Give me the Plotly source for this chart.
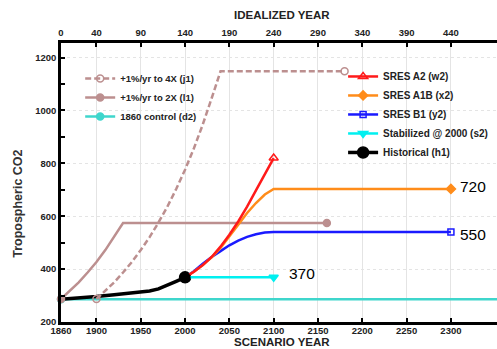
import plotly.graph_objects as go

# ---------------- data ----------------
scenario_ticks = [1860, 1900, 1950, 2000, 2050, 2100, 2150, 2200, 2250, 2300]
idealized_ticks = [0, 40, 90, 140, 190, 240, 290, 340, 390, 440]
y_ticks = [200, 400, 600, 800, 1000, 1200]

control_years = [1860, 2360]
control_co2 = [286, 286]

hist_years = [1860, 1880, 1900, 1920, 1940, 1950, 1960, 1970, 1980, 1990, 2000]
hist_co2 = [286, 290, 296, 303, 310, 312, 317, 325, 338, 354, 369]

two_x_years = [1860, 1870, 1880, 1890, 1900, 1910, 1920, 1930, 2160]
two_x_co2 = [287, 317, 350, 387, 427, 472, 521, 574, 574]

four_x_years = [1900, 1910, 1920, 1930, 1940, 1950, 1960, 1970, 1980, 1990,
                2000, 2010, 2020, 2030, 2040, 2180]
four_x_co2 = [287, 317, 350, 387, 427, 472, 521, 576, 636, 703,
              776, 857, 947, 1046, 1148, 1148]

sres_years = [2000, 2010, 2020, 2030, 2040, 2050, 2060, 2070, 2080, 2090, 2100]
a2_co2 = [369, 390, 415, 446, 485, 530, 580, 636, 698, 760, 820]
ext_years = sres_years + [2300]
a1b_co2 = [369, 390, 415, 444, 480, 522, 568, 612, 650, 682, 703, 703]
b1_co2 = [369, 392, 420, 446, 468, 490, 508, 522, 532, 538, 540, 540]
stab_years = [2000, 2100]
stab_co2 = [369, 369]

end_labels = ["720", "550", "370"]
end_label_x = [2308, 2308, 2115]
end_label_y = [711, 529, 385]

x_range = [1860, 2352]
y_range = [200, 1255]

BROWN = "#bc8f8f"
TURQ = "#3fd6cc"
CYAN = "#00f0f0"
RED = "#ff1a1a"
ORANGE = "#ff8c1a"
BLUE = "#1a1aff"
FONT = "Liberation Sans"

fig = go.Figure()


def series(xs, ys, color, width, dash, sym, msize, name, legend, start_marker=True):
    fig.add_trace(go.Scatter(x=xs, y=ys, mode="lines", line=dict(color=color, width=width, dash=dash),
                             showlegend=False, hoverinfo="skip"))
    mx = [xs[0], xs[-1]] if start_marker else [xs[-1]]
    my = [ys[0], ys[-1]] if start_marker else [ys[-1]]
    fig.add_trace(go.Scatter(x=mx, y=my, mode="markers",
                             marker=dict(symbol=sym, size=msize, color=color,
                                         line=dict(color=color, width=1.5)),
                             showlegend=False, hoverinfo="skip", cliponaxis=False))
    # legend entry
    fig.add_trace(go.Scatter(x=[None], y=[None], mode="lines+markers", name=name, legend=legend,
                             line=dict(color=color, width=width, dash=dash),
                             marker=dict(symbol=sym, size=msize, color=color,
                                         line=dict(color=color, width=1.5))))


series(control_years, control_co2, TURQ, 2.5, "solid", "circle", 7, "1860 control (d2)", "legend")
series(hist_years, hist_co2, "black", 3.5, "solid", "circle", 11, "Historical (h1)", "legend2", start_marker=False)
series(two_x_years, two_x_co2, BROWN, 2.5, "solid", "circle", 7, "+1%/yr to 2X (l1)", "legend")
series(four_x_years, four_x_co2, BROWN, 2.5, "6px,3px", "circle-open", 7, "+1%/yr to 4X (j1)", "legend")
series(stab_years, stab_co2, CYAN, 2.5, "solid", "triangle-down", 8, "Stabilized @ 2000 (s2)", "legend2", start_marker=False)
series(ext_years, b1_co2, BLUE, 2.5, "solid", "square-open", 6, "SRES B1 (y2)", "legend2", start_marker=False)
series(ext_years, a1b_co2, ORANGE, 2.5, "solid", "diamond", 7, "SRES A1B (x2)", "legend2", start_marker=False)
series(sres_years, a2_co2, RED, 2.5, "solid", "triangle-up-open", 8, "SRES A2 (w2)", "legend2", start_marker=False)

# historical end marker on top
fig.add_trace(go.Scatter(x=[hist_years[-1]], y=[hist_co2[-1]], mode="markers",
                         marker=dict(symbol="circle", size=11, color="black"),
                         showlegend=False, hoverinfo="skip"))

# idealized-year axis carrier (no visible mark)
fig.add_trace(go.Scatter(x=[idealized_ticks[0]], y=[None], xaxis="x2", yaxis="y",
                         showlegend=False, hoverinfo="skip"))

# legend order
order1 = ["+1%/yr to 4X (j1)", "+1%/yr to 2X (l1)", "1860 control (d2)"]
order2 = ["SRES A2 (w2)", "SRES A1B (x2)", "SRES B1 (y2)", "Stabilized @ 2000 (s2)", "Historical (h1)"]
for tr in fig.data:
    if tr.name in order1:
        tr.legendrank = order1.index(tr.name)
    elif tr.name in order2:
        tr.legendrank = order2.index(tr.name)

for t, xv, yv in zip(end_labels, end_label_x, end_label_y):
    fig.add_annotation(x=xv, y=yv, text=t, showarrow=False, xanchor="left", yanchor="middle",
                       font=dict(family=FONT, size=15.5, color="black"))

title_font = dict(family=FONT, size=11.5, color="#222222", weight="bold")
fig.add_annotation(x=-0.099, y=0.423, xref="paper", yref="paper", text="Tropospheric CO2",
                   textangle=-90, showarrow=False, xanchor="center", yanchor="middle",
                   font=dict(family=FONT, size=12.5, color="#333333", weight="bold"))
fig.add_annotation(x=0.507, y=-0.096, xref="paper", yref="paper", text="SCENARIO YEAR",
                   showarrow=False, xanchor="center", yanchor="bottom", font=title_font,
                   borderpad=0)
fig.add_annotation(x=0.507, y=1.100, xref="paper", yref="paper", text="IDEALIZED YEAR",
                   showarrow=False, xanchor="center", yanchor="middle", font=title_font)

tickfont = dict(family=FONT, size=9.5, color="#222222", weight="bold")
axis_common = dict(showline=True, linecolor="black", linewidth=2.5, ticks="inside", automargin=False,
                   tickcolor="black", tickwidth=1.5, ticklen=4, tickfont=tickfont, zeroline=False)

fig.update_layout(
    width=497, height=349,
    margin=dict(l=61, r=0, t=43, b=27, autoexpand=False),
    paper_bgcolor="white", plot_bgcolor="white",
    font=dict(family=FONT),
    xaxis=dict(range=x_range, tickvals=scenario_ticks, showgrid=True, gridcolor="#e4e4e4", gridwidth=1,
               ticklabelstandoff=-2, **axis_common),
    xaxis2=dict(range=[x_range[0] - scenario_ticks[0], x_range[1] - scenario_ticks[0]],
                tickvals=idealized_ticks, overlaying="x", side="top", anchor="y", showgrid=False,
                **axis_common),
    yaxis=dict(range=y_range, tickvals=y_ticks, showgrid=True, gridcolor="#e4e4e4", griddash="dot",
               minor=dict(ticks="inside", dtick=100, ticklen=4, tickcolor="black", tickwidth=1.5, showgrid=False),
               **axis_common),
    legend=dict(x=0.044, y=0.925, xanchor="left", yanchor="top", bgcolor="rgba(0,0,0,0)",
                font=dict(family=FONT, size=9.5, color="#222222", weight="bold"),
                itemwidth=30, tracegroupgap=0),
    legend2=dict(x=0.647, y=0.932, xanchor="left", yanchor="top", bgcolor="rgba(0,0,0,0)",
                 font=dict(family=FONT, size=10, color="#222222", weight="bold"),
                 itemwidth=30, tracegroupgap=0),
)

fig.write_html("out.html", post_script="document.body.style.margin='0px';",
               config={"displayModeBar": False})
